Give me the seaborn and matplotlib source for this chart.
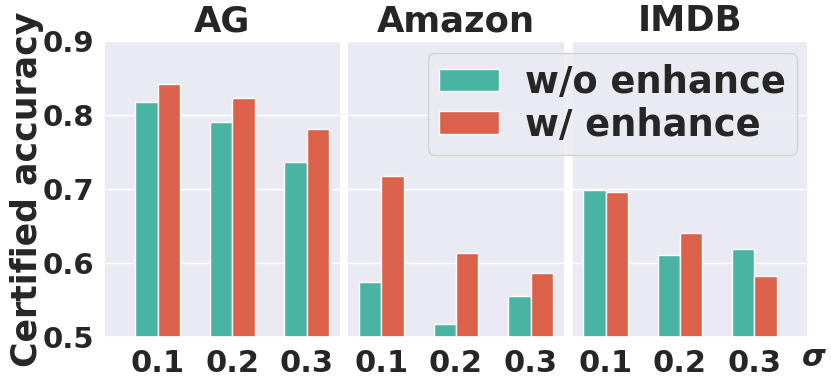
import matplotlib
matplotlib.use("Agg")
import matplotlib.pyplot as plt
import seaborn as sns
import pandas as pd

datasets = ["AG", "Amazon", "IMDB"]
sigmas = ["0.1", "0.2", "0.3"]
methods = ["w/o enhance", "w/ enhance"]
wo_enhance = {
    "AG": [0.818, 0.790, 0.737],
    "Amazon": [0.575, 0.517, 0.555],
    "IMDB": [0.699, 0.611, 0.619],
}
w_enhance = {
    "AG": [0.842, 0.823, 0.781],
    "Amazon": [0.717, 0.613, 0.587],
    "IMDB": [0.696, 0.641, 0.583],
}
yticks = [0.5, 0.6, 0.7, 0.8, 0.9]
colors = ["#4AB4A4", "#DC614A"]

sns.set_theme(style="darkgrid")
plt.rcParams["font.family"] = ["DejaVu Sans"]
plt.rcParams["font.weight"] = "bold"

W, H = 831, 386
fig = plt.figure(figsize=(W / 100, H / 100), dpi=100)

boxes = [(104, 341), (347, 565), (572, 808)]
xlims = [(-0.72, 2.46), (-0.46, 2.46), (-0.45, 2.72)]
top, bottom = 41, 337

axes = []
for i, ds in enumerate(datasets):
    l, r = boxes[i]
    ax = fig.add_axes([l / W, (H - bottom) / H, (r - l) / W, (bottom - top) / H])
    rows = []
    for s, a, b in zip(sigmas, wo_enhance[ds], w_enhance[ds]):
        rows.append({"sigma": s, "method": methods[0], "acc": a})
        rows.append({"sigma": s, "method": methods[1], "acc": b})
    df = pd.DataFrame(rows)
    sns.barplot(data=df, x="sigma", y="acc", hue="method", order=sigmas,
                hue_order=methods, palette=colors, saturation=1, width=0.6,
                ax=ax, edgecolor="white", linewidth=1, legend=(i == 1))
    ax.set_ylim(0.5, 0.9)
    ax.set_xlim(*xlims[i])
    ax.set_yticks(yticks)
    ax.set_xlabel("")
    ax.set_ylabel("")
    ax.set_title(ds, fontsize=25.5, fontweight="bold", pad=7)
    ax.tick_params(axis="x", labelsize=22, pad=3)
    ax.tick_params(axis="y", labelsize=21, pad=1)
    for t in ax.get_xticklabels() + ax.get_yticklabels():
        t.set_fontweight("bold")
    if i > 0:
        ax.set_yticklabels([])
    axes.append(ax)

axes[0].set_ylabel("Certified accuracy", fontsize=25, fontweight="bold", labelpad=-1)

leg = axes[1].get_legend()
if leg is not None:
    leg.remove()
handles, labels = axes[1].get_legend_handles_labels()
fig.legend(handles, labels, loc="upper right",
           bbox_to_anchor=(797 / W, (H - 53) / H),
           prop={"size": 26.5, "weight": "bold"}, frameon=True,
           handlelength=1.65, handleheight=0.55, borderpad=0.3,
           labelspacing=0.15, handletextpad=0.7, borderaxespad=0)

fig.text(814 / W, (H - 357) / H, "σ",
         fontsize=22, fontweight="bold", style="italic", ha="center", va="center")

fig.savefig("out.png", dpi=100)
